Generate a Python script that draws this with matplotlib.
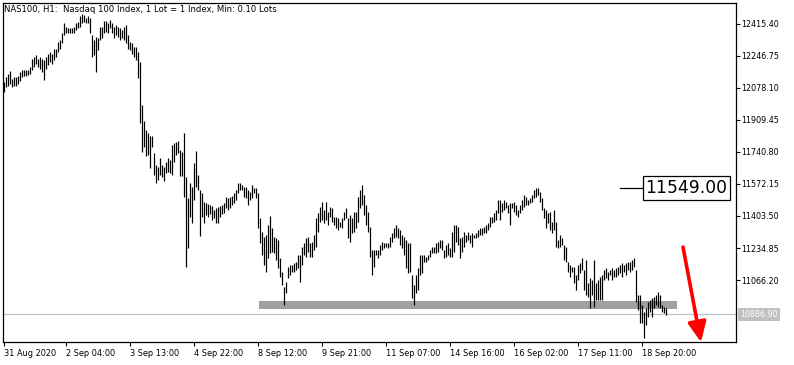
import matplotlib
matplotlib.use("Agg")
import matplotlib.pyplot as plt
import matplotlib.transforms as mtransforms

# NAS100 H1 bars, 31 Aug - 18 Sep 2020 (high / low)
title = "NAS100, H1:  Nasdaq 100 Index, 1 Lot = 1 Index, Min: 0.10 Lots"

highs = [
    12110, 12136, 12152, 12168, 12125, 12136, 12136, 12141, 12162, 12173,
    12173, 12173, 12173, 12189, 12231, 12241, 12252, 12231, 12241, 12231,
    12226, 12241, 12257, 12268, 12257, 12284, 12284, 12320, 12331, 12368,
    12421, 12400, 12394, 12394, 12394, 12400, 12421, 12426, 12457, 12468,
    12463, 12447, 12457, 12447, 12357, 12331, 12347, 12342, 12400, 12400,
    12431, 12431, 12421, 12436, 12421, 12400, 12410, 12400, 12394, 12384,
    12400, 12410, 12357, 12320, 12315, 12294, 12294, 12268, 12215, 11988,
    11904, 11857, 11841, 11825, 11825, 11736, 11672, 11662, 11709, 11672,
    11662, 11688, 11709, 11699, 11778, 11788, 11794, 11799, 11751, 11741,
    11841, 11609, 11498, 11577, 11556, 11683, 11746, 11620, 11541, 11525,
    11477, 11472, 11467, 11461, 11456, 11435, 11446, 11451, 11456, 11461,
    11472, 11504, 11498, 11504, 11509, 11525, 11541, 11577, 11577, 11567,
    11556, 11556, 11541, 11530, 11567, 11551, 11551, 11525, 11393, 11319,
    11293, 11303, 11356, 11404, 11340, 11293, 11288, 11277, 11182, 11108,
    11029, 11056, 11135, 11145, 11145, 11156, 11161, 11198, 11198, 11240,
    11261, 11288, 11293, 11261, 11266, 11303, 11393, 11419, 11451, 11477,
    11435, 11477, 11425, 11451, 11446, 11398, 11398, 11393, 11372, 11393,
    11425, 11446, 11393, 11409, 11393, 11425, 11425, 11504, 11541, 11567,
    11514, 11461, 11425, 11346, 11224, 11224, 11224, 11224, 11251, 11266,
    11261, 11261, 11261, 11293, 11314, 11340, 11356, 11340, 11330, 11303,
    11293, 11277, 11261, 11261, 11093, 11040, 11093, 11130, 11198, 11198,
    11198, 11187, 11198, 11224, 11240, 11240, 11261, 11266, 11277, 11277,
    11224, 11251, 11261, 11235, 11319, 11356, 11356, 11346, 11288, 11293,
    11319, 11303, 11319, 11303, 11314, 11303, 11314, 11330, 11340, 11340,
    11346, 11356, 11367, 11398, 11398, 11419, 11435, 11488, 11488, 11472,
    11488, 11477, 11461, 11472, 11472, 11477, 11461, 11435, 11461, 11488,
    11514, 11504, 11488, 11498, 11514, 11541, 11551, 11551, 11530, 11498,
    11446, 11435, 11419, 11425, 11372, 11435, 11372, 11277, 11303, 11288,
    11251, 11240, 11161, 11145, 11135, 11135, 11093, 11145, 11156, 11182,
    11119, 11172, 11050, 11077, 11066, 11172, 11050, 11066, 11082, 11093,
    11119, 11130, 11108, 11119, 11130, 11119, 11130, 11135, 11145, 11156,
    11145, 11156, 11161, 11161, 11172, 11182, 11119, 10987, 10987, 10934,
    10898, 10919, 10950, 10961, 10971, 10977, 10987, 11003, 10987, 10934,
    10924, 10919,
]

lows = [
    12057, 12083, 12089, 12099, 12083, 12089, 12089, 12099, 12115, 12136,
    12141, 12141, 12147, 12152, 12173, 12189, 12205, 12189, 12178, 12162,
    12120, 12178, 12199, 12215, 12205, 12226, 12241, 12268, 12284, 12315,
    12357, 12368, 12368, 12368, 12368, 12368, 12384, 12394, 12400, 12421,
    12426, 12421, 12421, 12368, 12241, 12252, 12162, 12278, 12331, 12342,
    12368, 12373, 12368, 12394, 12368, 12342, 12357, 12347, 12331, 12342,
    12331, 12315, 12284, 12278, 12257, 12241, 12226, 12131, 11894, 11741,
    11767, 11720, 11725, 11656, 11767, 11620, 11577, 11593, 11620, 11609,
    11588, 11630, 11635, 11630, 11620, 11688, 11725, 11736, 11614, 11614,
    11504, 11135, 11235, 11398, 11367, 11488, 11556, 11541, 11298, 11398,
    11367, 11409, 11398, 11414, 11382, 11393, 11367, 11367, 11398, 11414,
    11419, 11446, 11435, 11446, 11461, 11472, 11488, 11525, 11541, 11541,
    11504, 11498, 11461, 11488, 11498, 11525, 11498, 11340, 11261, 11198,
    11145, 11108, 11182, 11209, 11214, 11209, 11172, 11130, 11082, 11040,
    10934, 10998, 11077, 11093, 11108, 11108, 11119, 11130, 11056, 11145,
    11198, 11187, 11214, 11187, 11187, 11224, 11240, 11319, 11372, 11382,
    11367, 11382, 11356, 11398, 11372, 11356, 11340, 11330, 11346, 11340,
    11382, 11393, 11288, 11266, 11314, 11319, 11340, 11372, 11446, 11461,
    11409, 11356, 11319, 11187, 11093, 11135, 11198, 11182, 11198, 11224,
    11235, 11240, 11235, 11240, 11266, 11288, 11293, 11288, 11251, 11235,
    11198, 11130, 11103, 11108, 10971, 10934, 10998, 11014, 11093, 11103,
    11161, 11161, 11172, 11187, 11209, 11209, 11209, 11214, 11235, 11224,
    11182, 11187, 11198, 11187, 11187, 11214, 11266, 11251, 11182, 11214,
    11240, 11266, 11277, 11261, 11240, 11288, 11288, 11293, 11303, 11303,
    11314, 11314, 11330, 11346, 11367, 11372, 11382, 11419, 11382, 11425,
    11435, 11446, 11419, 11356, 11446, 11425, 11409, 11398, 11419, 11435,
    11451, 11461, 11461, 11472, 11477, 11498, 11504, 11514, 11477, 11435,
    11393, 11340, 11367, 11330, 11314, 11330, 11240, 11235, 11240, 11251,
    11172, 11161, 11108, 11082, 11108, 11050, 11014, 11066, 11103, 11119,
    11014, 10987, 10977, 10919, 10987, 10924, 10961, 10961, 10961, 10961,
    11066, 11077, 11066, 11093, 11066, 11082, 11082, 11093, 11103, 11082,
    11108, 11093, 11119, 11108, 11119, 11135, 10950, 10908, 10840, 10840,
    10761, 10829, 10871, 10898, 10871, 10919, 10934, 10924, 10919, 10898,
    10892, 10882,
]

price_ticks = [12415.40, 12246.75, 12078.10, 11909.45, 11740.80,
               11572.15, 11403.50, 11234.85, 11066.20]
time_labels = ["31 Aug 2020", "2 Sep 04:00", "3 Sep 13:00", "4 Sep 22:00",
               "8 Sep 12:00", "9 Sep 21:00", "11 Sep 07:00", "14 Sep 16:00",
               "16 Sep 02:00", "17 Sep 11:00", "18 Sep 20:00"]
time_label_bars = [0, 31, 63, 95, 127, 159, 191, 223, 255, 287, 319]

last_price = 10886.90
marked_price = 11549.00
zone_low, zone_high = 10913, 10955
zone_start, zone_end = 127.5, 336.5
arrow_from = (339.5, 11240)
arrow_to = (348.5, 10738)

W, H = 794, 365
fig = plt.figure(figsize=(W / 100, H / 100), dpi=100)
fig.patch.set_facecolor("white")
ax = fig.add_axes([2.5 / W, 22.7 / H, 733.2 / W, 339 / H])

bars = list(range(len(highs)))
ax.vlines(bars, lows, highs, color="black", lw=0.88, zorder=3)

# support zone and last price line
ax.fill_between([zone_start, zone_end], zone_low, zone_high,
                color="#a0a0a0", lw=0, zorder=2)
ax.axhline(last_price, color="#c0c0c0", lw=0.9, zorder=1)

ax.set_xlim(-0.75, 365.85)
ax.set_ylim(10737.9, 12524.4)

for s in ax.spines.values():
    s.set_color("black")
    s.set_linewidth(0.9)

ax.yaxis.tick_right()
ax.set_yticks(price_ticks)
ax.set_yticklabels([f"{p:.2f}" for p in price_ticks])
ax.tick_params(axis="y", direction="out", length=3, width=0.8, pad=1,
               labelsize=5.8, colors="black")
ax.set_xticks(time_label_bars)
ax.set_xticklabels(time_labels, ha="left")
ax.tick_params(axis="x", direction="out", length=3, width=0.8, pad=2,
               labelsize=5.9, colors="black")

# last price tag on the price scale
tr = mtransforms.blended_transform_factory(ax.transAxes, ax.transData)
ax.text(1.006, last_price, f"{last_price:.2f}", transform=tr,
        fontsize=5.8, color="white", va="center", ha="left",
        bbox=dict(boxstyle="square,pad=0.25", fc="#c0c0c0", ec="none"),
        clip_on=False)

# price label object
ax.plot([308, 319], [marked_price, marked_price], color="black", lw=0.9,
        zorder=4)
ax.text(341.25, marked_price, f"{marked_price:.2f}", fontsize=12.3,
        color="black", ha="center", va="center", zorder=5,
        bbox=dict(boxstyle="square,pad=0.17", fc="white", ec="black", lw=0.9))

ax.annotate("", xy=arrow_to, xytext=arrow_from,
            arrowprops=dict(arrowstyle="-|>,head_length=0.55,head_width=0.25",
                            color="red", lw=2.6, mutation_scale=22,
                            shrinkA=0, shrinkB=0),
            annotation_clip=False, zorder=6)

fig.text(4 / W, 1 - 10 / H, title, fontsize=6.15, color="black",
         ha="left", va="center")

fig.savefig("out.png", dpi=100, facecolor="white")
